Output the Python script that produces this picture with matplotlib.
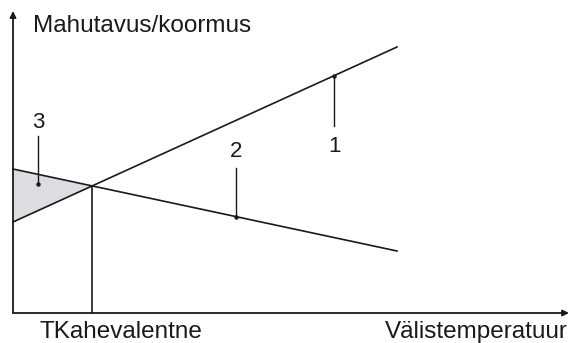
import matplotlib
matplotlib.use("Agg")
from matplotlib import pyplot as plt
import numpy as np

plt.rcParams['font.family'] = ['Liberation Sans', 'DejaVu Sans']

# schematic values (arbitrary units, origin at axes corner)
TEMP = np.array([0, 384])
CAPACITY = np.array([91, 266])   # 1 - heat pump capacity
LOAD = np.array([144, 62])       # 2 - heating load

LABELS = ['1', '2', '3']
X_LABEL = 'Välistemperatuur'
Y_LABEL = 'Mahutavus/koormus'
BIV_LABEL = 'TKahevalentne'

# intersection (bivalent point)
k1 = (CAPACITY[1] - CAPACITY[0]) / (TEMP[1] - TEMP[0])
k2 = (LOAD[1] - LOAD[0]) / (TEMP[1] - TEMP[0])
x_biv = (LOAD[0] - CAPACITY[0]) / (k1 - k2)
y_biv = CAPACITY[0] + k1 * x_biv

fig = plt.figure(figsize=(5.7, 3.43), dpi=100)
ax = fig.add_axes([0, 0, 1, 1])
ax.set_xlim(-13, 557)
ax.set_ylim(-30, 313)
ax.axis('off')

lc = '#1a1a1a'
lw = 1.2

# axes arrows
ax.annotate('', xy=(556, 0), xytext=(0, 0),
            arrowprops=dict(arrowstyle='-|>', color=lc, lw=1.3, mutation_scale=9, shrinkA=0, shrinkB=0))
ax.annotate('', xy=(0, 302), xytext=(0, 0),
            arrowprops=dict(arrowstyle='-|>', color=lc, lw=1.3, mutation_scale=9, shrinkA=0, shrinkB=0))

ax.plot(TEMP, CAPACITY, color=lc, lw=lw)
ax.plot(TEMP, LOAD, color=lc, lw=lw)

# shaded area 3
xs = np.array([0, x_biv])
ax.fill_between(xs, np.interp(xs, TEMP, CAPACITY), np.interp(xs, TEMP, LOAD),
                color='#dcdde0', lw=0, zorder=0)

ax.plot([x_biv, x_biv], [0, y_biv], color=lc, lw=lw)

# leaders
def leader(x, y_top, line_y, label, ly):
    ax.plot([x, x], [line_y, y_top], color=lc, lw=1.0)
    ax.plot(x, line_y, 'o', color=lc, ms=2.2)
    ax.text(x, ly, label, ha='center', va='baseline', fontsize=16, color=lc)

x1 = 321
leader(x1, 187, np.interp(x1, TEMP, CAPACITY), LABELS[0], 161)
x2 = 223
leader(x2, 145, np.interp(x2, TEMP, LOAD), LABELS[1], 156)
x3 = 25
ax.plot([x3, x3], [129, 177], color=lc, lw=1.0)
ax.plot(x3, 129, 'o', color=lc, ms=2.2)
ax.text(x3, 185, LABELS[2], ha='center', va='baseline', fontsize=16, color=lc)

ax.text(20, 281, Y_LABEL, ha='left', va='baseline', fontsize=17.5, color=lc)
ax.text(26, -25, BIV_LABEL, ha='left', va='baseline', fontsize=17.5, color=lc)
ax.text(555, -25, X_LABEL, ha='right', va='baseline', fontsize=17.5, color=lc)

fig.savefig('out.png', dpi=100)
